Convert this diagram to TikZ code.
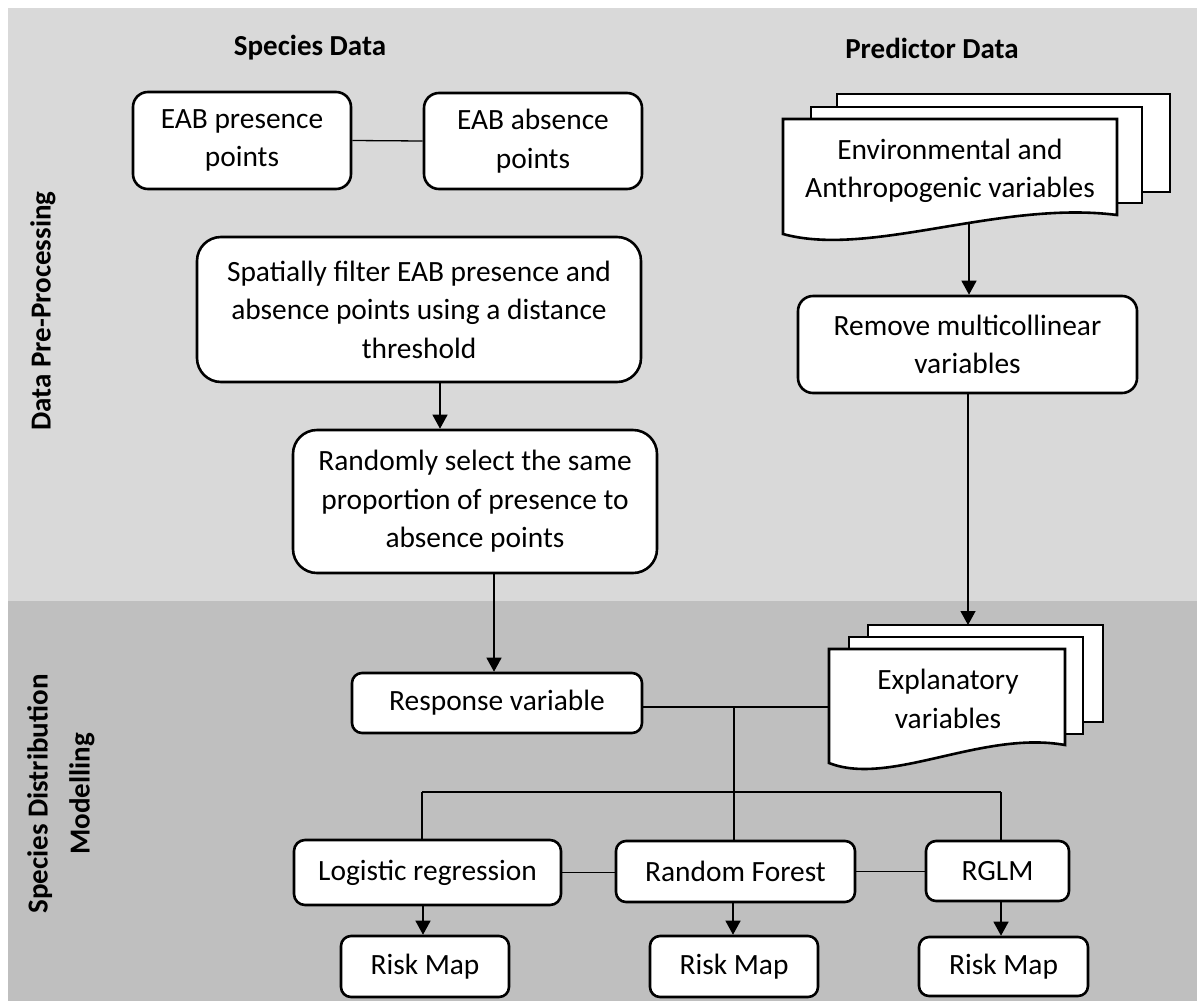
\documentclass[tikz,border=0pt]{standalone}
\usepackage{fontspec}
\setmainfont{Carlito}
\usetikzlibrary{arrows.meta}
\begin{document}
\begin{tikzpicture}[x=0.5pt,y=-0.5pt,
  txt/.style={font=\fontsize{14.7}{19.25}\selectfont, align=center, inner sep=0pt},
  hdr/.style={font=\fontsize{14.5}{19.25}\selectfont\bfseries, align=center, inner sep=0pt},
  box/.style={txt, draw=black, fill=white, line width=1.3pt, rectangle},
  link/.style={line width=0.65pt},
  arr/.style={line width=0.65pt, -{Triangle[length=7pt,width=7.5pt]}},
  doc/.style={draw=black, fill=white, line width=1.3pt, line join=miter}]
\definecolor{bandA}{HTML}{D9D9D9}
\definecolor{bandB}{HTML}{BFBFBF}
\useasboundingbox (0,0) rectangle (1197,1001);
\fill[bandA] (8,8) rectangle (1197,601);
\fill[bandB] (8,601) rectangle (1197,1001);

% headers and side labels
\node[hdr] (hs) at (310,48) {Species Data};
\node[hdr] (hp) at (932,48) {Predictor Data};
\node[hdr, rotate=90] (l1) at (43,311) {Data Pre-Processing};
\node[hdr, rotate=90, font=\fontsize{14.5}{21}\selectfont\bfseries] (l2) at (61,794) {Species Distribution\\Modelling};

% species data boxes
\node[box, rounded corners=7.5pt, minimum width=109pt, minimum height=48.5pt] (pres) at (242,140.5) {EAB presence\\points};
\node[box, rounded corners=7.5pt, minimum width=109pt, minimum height=48pt] (abs) at (533,141) {EAB absence\\points};
\node[box, rounded corners=12pt, minimum width=222pt, minimum height=72.5pt] (spat) at (419,309.5) {Spatially filter EAB presence and\\absence points using a distance\\threshold};
\node[box, rounded corners=12pt, minimum width=182pt, minimum height=71.5pt] (rand) at (475,501.5) {Randomly select the same\\proportion of presence to\\absence points};
\node[box, rounded corners=5pt, minimum width=145pt, minimum height=30pt] (resp) at (497,703) {Response variable};

% predictor boxes
\node[box, rounded corners=7.5pt, minimum width=169.5pt, minimum height=48.5pt] (remv) at (967.5,344.5) {Remove multicollinear\\variables};

% environmental document stack
\draw[doc] (837,94) rectangle (1170,192);
\draw[doc] (811,107) rectangle (1142,203);
\draw[doc] (783,119) -- (1117,119) -- (1117,215) .. controls (1000,200) and (870,258) .. (783,234) -- cycle;
\node[txt] (env) at (950,171) {Environmental and\\Anthropogenic variables};

% explanatory document stack
\draw[doc] (868,625) rectangle (1103,722);
\draw[doc] (849,637) rectangle (1083,734);
\draw[doc] (829,649) -- (1065,649) -- (1065,745) .. controls (982,730) and (890,787) .. (829,763) -- cycle;
\node[txt] (expl) at (948,699) {Explanatory\\variables};

% models
\node[box, rounded corners=5.5pt, minimum width=133.5pt, minimum height=32.5pt] (logr) at (427.5,872.5) {Logistic regression};
\node[box, rounded corners=5pt, minimum width=119.5pt, minimum height=30.5pt] (rf) at (735.5,871.5) {Random Forest};
\node[box, rounded corners=5pt, minimum width=71.5pt, minimum height=30pt] (rglm) at (997.5,871) {RGLM};
\node[box, rounded corners=5pt, minimum width=84pt, minimum height=30.5pt] (rm1) at (425,966.5) {Risk Map};
\node[box, rounded corners=5pt, minimum width=84pt, minimum height=30.5pt] (rm2) at (734,966.5) {Risk Map};
\node[box, rounded corners=5pt, minimum width=84.5pt, minimum height=29.5pt] (rm3) at (1003.5,966.5) {Risk Map};

% named coordinates
\coordinate (xA) at (440,0);
\coordinate (xB) at (494,0);
\coordinate (envb) at (969,223);
\coordinate (exT) at (968,625);
\coordinate (exL) at (829,707);
\coordinate (jn) at (734,707);
\coordinate (hL) at (422,792);
\coordinate (hR) at (1001,792);
\coordinate (a1) at (423,0);
\coordinate (a2) at (733,0);
\coordinate (a3) at (1001,0);

% connectors
\draw[link] (pres.east) -- (abs.west);
\draw[arr] (spat.south -| xA) -- (rand.north -| xA);
\draw[arr] (rand.south -| xB) -- (resp.north -| xB);
\draw[arr] (envb) -- (remv.north -| envb);
\draw[arr] (remv.south -| exT) -- (exT);
\draw[link] (resp.east |- exL) -- (exL);
\draw[link] (jn) -- (rf.north -| jn);
\draw[link] (hL) -- (hR);
\draw[link] (hL) -- (logr.north -| hL);
\draw[link] (hR) -- (rglm.north -| hR);
\draw[link] (logr.east) -- (rf.west |- logr.east);
\draw[link] (rf.east) -- (rglm.west |- rf.east);
\draw[arr] (logr.south -| a1) -- (rm1.north -| a1);
\draw[arr] (rf.south -| a2) -- (rm2.north -| a2);
\draw[arr] (rglm.south -| a3) -- (rm3.north -| a3);
\end{tikzpicture}
\end{document}
